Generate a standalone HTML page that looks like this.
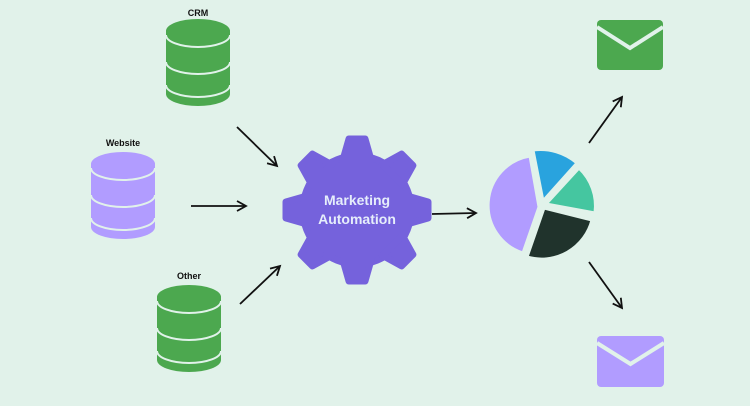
<!DOCTYPE html>
<html><head><style>
html,body{margin:0;padding:0;background:#e1f2ea;}
svg{display:block;}
text{font-family:"Liberation Sans",sans-serif;font-weight:bold;}
</style></head><body>
<svg width="750" height="406" viewBox="0 0 750 406">
<rect width="750" height="406" fill="#e1f2ea"/>
<defs>
<g id="cyl">
<path d="M0 12 A32 12 0 0 1 64 12 V75 A32 12 0 0 1 0 75 Z"/>
<path d="M0 16 A32 12 0 0 0 64 16 M0 43 A32 12 0 0 0 64 43 M0 66 A32 12 0 0 0 64 66" fill="none" stroke="#e1f2ea" stroke-width="2"/>
</g>
<marker id="ah" markerWidth="12" markerHeight="12" refX="10" refY="6" orient="auto" markerUnits="userSpaceOnUse">
<path d="M1 1 L10 6 L1 11" fill="none" stroke="#111" stroke-width="1.8"/>
</marker>
</defs>
<text x="198" y="16" font-size="9" text-anchor="middle" fill="#111">CRM</text>
<g fill="#4ca84f" transform="translate(166,19)"><use href="#cyl"/></g>
<text x="123" y="146" font-size="9" text-anchor="middle" fill="#111">Website</text>
<g fill="#b19cff" transform="translate(91,152)"><use href="#cyl"/></g>
<text x="189" y="279" font-size="9" text-anchor="middle" fill="#111">Other</text>
<g fill="#4ca84f" transform="translate(157,285)"><use href="#cyl"/></g>

<g stroke="#111" stroke-width="1.8" fill="none" marker-end="url(#ah)">
<path d="M237 127 L277 166"/>
<path d="M191 206 L246 206"/>
<path d="M240 304 L280 266"/>
<path d="M432 214 L476 213"/>
<path d="M589 143 L622 97"/>
<path d="M589 262 L622 308"/>
</g>

<g transform="translate(357,210)" fill="#7562dc" stroke="#7562dc" stroke-width="7" stroke-linejoin="round">
<circle r="54"/>
<g id="t"><path d="M-14 -50 L-8 -71 L8 -71 L14 -50 Z"/></g>
<use href="#t" transform="rotate(45)"/><use href="#t" transform="rotate(90)"/><use href="#t" transform="rotate(135)"/>
<use href="#t" transform="rotate(180)"/><use href="#t" transform="rotate(225)"/><use href="#t" transform="rotate(270)"/><use href="#t" transform="rotate(315)"/>
</g>
<text x="357" y="205" font-size="14" text-anchor="middle" fill="#e6eefb">Marketing</text>
<text x="357" y="224" font-size="14" text-anchor="middle" fill="#e6eefb">Automation</text>

<g transform="translate(542,205)" stroke="#e1f2ea" stroke-width="3" stroke-linejoin="round">
<path d="M-3 2 L-12 -49 A50 50 0 0 0 -19 48 Z" fill="#b19cff"/>
<path d="M1 -4 L-9 -55 A56 56 0 0 1 35 -42 Z" fill="#29a3de"/>
<path d="M4 -1 L37 -37 A52 52 0 0 1 53 8 Z" fill="#45c6a0"/>
<path d="M2 3 L50 15 A52 52 0 0 1 -15 52 Z" fill="#20332c"/>
</g>

<g>
<rect x="597" y="20" width="66" height="50" rx="4" fill="#4ca84f"/>
<path d="M597 27 L630 48 L663 27" fill="none" stroke="#e1f2ea" stroke-width="4"/>
<rect x="597" y="336" width="67" height="51" rx="4" fill="#b19cff"/>
<path d="M597 343 L630.5 364 L664 343" fill="none" stroke="#e1f2ea" stroke-width="4"/>
</g>
</svg>
</body></html>
